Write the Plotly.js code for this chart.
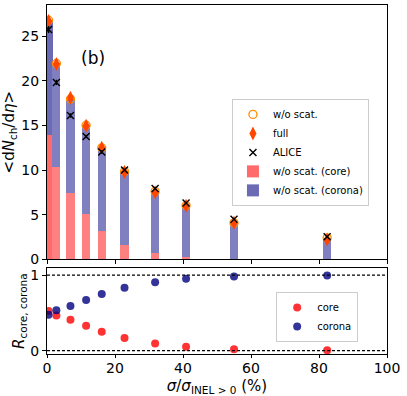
<!DOCTYPE html>
<html>
<head>
<meta charset="utf-8">
<script src="https://cdn.plot.ly/plotly-3.0.1.min.js"></script>
<style>
  body { margin: 0; background: white; }
  #chart { width: 407px; height: 396px; }
</style>
</head>
<body>
<div id="chart"></div>
<script>
// multiplicity classes (centre of each sigma/sigma_INEL>0 bin, %)
var classes = [0.46, 2.76, 6.9, 11.5, 16.1, 22.8, 31.8, 40.9, 55.0, 82.4];

// <dNch/deta> without scattering, split in core and corona
var core_yield = [13.95, 10.3, 7.4, 5.06, 3.13, 1.67, 0.71, 0.30, 0.05, 0.0];
var corona_yield = [12.85, 11.65, 10.57, 9.97, 9.37, 8.19, 6.91, 5.73, 4.04, 2.42];
var wo_scat = [26.8, 21.95, 17.97, 15.03, 12.5, 9.86, 7.62, 6.03, 4.09, 2.42];
var full = [26.7, 21.9, 18.1, 14.96, 12.5, 9.8, 7.5, 6.0, 4.1, 2.23];
var alice = [25.75, 19.83, 16.12, 13.77, 12.04, 10.02, 7.95, 6.32, 4.5, 2.55];
var alice_err = [0.4, 0.3, 0.25, 0.2, 0.2, 0.15, 0.12, 0.1, 0.08, 0.05];

// fraction of core / corona
var r_core = [0.525, 0.466, 0.408, 0.33, 0.25, 0.167, 0.095, 0.05, 0.018, 0.004];
var r_corona = [0.475, 0.534, 0.592, 0.67, 0.75, 0.833, 0.905, 0.95, 0.982, 0.996];

var font = "DejaVu Sans, sans-serif";

// the first bin is drawn darker in the original
var core_colors = classes.map(function(c, i) { return i === 0 ? "#ff6a6a" : "#ff8080"; });
var corona_colors = classes.map(function(c, i) { return i === 0 ? "#6a6ab5" : "#8080c0"; });

var data = [
  {
    x: classes, y: wo_scat, type: "scatter", mode: "markers",
    name: "w/o scat.", xaxis: "x", yaxis: "y",
    marker: {symbol: "circle-open", size: 8, color: "#ff8c00", line: {width: 1.3}},
  },
  {
    x: classes, y: full, type: "scatter", mode: "markers",
    name: "full", xaxis: "x", yaxis: "y",
    marker: {symbol: "diamond-tall", size: 10, color: "#ff4500"},
  },
  {
    x: classes, y: alice, type: "scatter", mode: "markers",
    name: "ALICE", xaxis: "x", yaxis: "y",
    marker: {symbol: "x-thin", size: 7, color: "black", line: {width: 1.4, color: "black"}},
    error_y: {type: "data", array: alice_err, visible: true, width: 0, thickness: 1.4, color: "black"},
  },
  {
    x: classes, y: core_yield, type: "bar", width: 2.4,
    name: "w/o scat. (core)", xaxis: "x", yaxis: "y",
    marker: {color: core_colors, line: {width: 0}},
  },
  {
    x: classes, y: corona_yield, type: "bar", width: 2.4,
    name: "w/o scat. (corona)", xaxis: "x", yaxis: "y",
    marker: {color: corona_colors, line: {width: 0}},
  },
  {
    x: classes, y: r_core, type: "scatter", mode: "markers",
    name: "core", xaxis: "x2", yaxis: "y2", legend: "legend2",
    marker: {size: 8, color: "rgba(255,0,0,0.8)"},
  },
  {
    x: classes, y: r_corona, type: "scatter", mode: "markers",
    name: "corona", xaxis: "x2", yaxis: "y2", legend: "legend2",
    marker: {size: 8, color: "rgba(0,0,128,0.8)"},
  },
];

var axis_style = {
  showline: true, mirror: true, linecolor: "black", linewidth: 1,
  ticks: "outside", ticklen: 4, tickcolor: "black",
  showgrid: false, zeroline: false,
  tickfont: {family: font, size: 14, color: "black"},
};

var layout = {
  width: 407, height: 396,
  margin: {l: 47, r: 20, t: 5, b: 42},
  paper_bgcolor: "white", plot_bgcolor: "white",
  barmode: "stack", bargap: 0,
  font: {family: font, color: "black"},
  xaxis: Object.assign({}, axis_style, {
    domain: [0, 1], anchor: "y", range: [0, 100], tickvals: [0, 20, 40, 60, 80, 100],
    showticklabels: false,
  }),
  yaxis: Object.assign({}, axis_style, {
    domain: [0.271, 1], anchor: "x", range: [0, 28.5], tickvals: [0, 5, 10, 15, 20, 25],
    title: {text: "&lt;d<i>N</i><sub>ch</sub>/d<i>η</i>&gt;", font: {family: font, size: 15}, standoff: 6},
  }),
  xaxis2: Object.assign({}, axis_style, {
    domain: [0, 1], anchor: "y2", range: [0, 100], tickvals: [0, 20, 40, 60, 80, 100],
    ticklen: 3, ticklabelstandoff: -2,
    title: {text: "<i>σ</i>/<i>σ</i><sub>INEL &gt; 0</sub> (%)", font: {family: font, size: 15}, standoff: 10},
  }),
  yaxis2: Object.assign({}, axis_style, {
    domain: [0, 0.2456], anchor: "x2", range: [-0.045, 1.09], tickvals: [0, 1],
    title: {text: "<i>R</i><sub>core, corona</sub>", font: {family: font, size: 15}, standoff: 2},
  }),
  legend: {
    x: 0.544, y: 0.731, xanchor: "left", yanchor: "top", traceorder: "normal",
    bgcolor: "white", bordercolor: "#cccccc", borderwidth: 1,
    font: {family: font, size: 10}, tracegroupgap: 0, itemwidth: 30,
  },
  legend2: {
    x: 0.674, y: 0.178, xanchor: "left", yanchor: "top", traceorder: "normal",
    bgcolor: "white", bordercolor: "#cccccc", borderwidth: 1,
    font: {family: font, size: 10}, itemwidth: 30,
  },
  shapes: [
    {type: "line", xref: "x2 domain", x0: 0, x1: 1, yref: "y2", y0: 0, y1: 0,
     line: {color: "black", width: 1.1, dash: "3px,2px"}},
    {type: "line", xref: "x2 domain", x0: 0, x1: 1, yref: "y2", y0: 1, y1: 1,
     line: {color: "black", width: 1.1, dash: "3px,2px"}},
  ],
  annotations: [
    {text: "(b)", xref: "paper", yref: "paper", x: 0.095, y: 0.883, showarrow: false,
     font: {family: font, size: 17, color: "black"}},
  ],
};

Plotly.newPlot("chart", data, layout, {displayModeBar: false, staticPlot: true});
</script>
</body>
</html>
